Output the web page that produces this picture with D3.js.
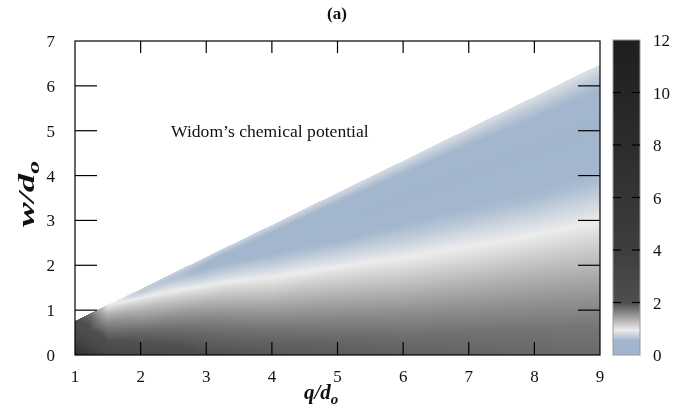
<!DOCTYPE html>
<html>
<head>
<meta charset="utf-8">
<script src="https://cdn.jsdelivr.net/npm/d3@7"></script>
<style>
  html, body { margin: 0; padding: 0; background: #fff; }
  #wrap { position: relative; width: 688px; height: 415px; overflow: hidden; }
  canvas, svg { position: absolute; left: 0; top: 0; }
  text { font-family: "Liberation Serif", "Times New Roman", serif; fill: #111; }
</style>
</head>
<body>
<div id="wrap"></div>
<script>
// ---------------- DATA ----------------
const xTicks = [1, 2, 3, 4, 5, 6, 7, 8, 9];
const yTicks = [0, 1, 2, 3, 4, 5, 6, 7];
const cbTicks = [0, 2, 4, 6, 8, 10, 12];
// q/d_o sample columns
const qNodes = [1, 1.25, 1.5, 2, 3, 4, 5, 6, 7, 8, 9];
// upper edge of the physical region (w/d_o) for each q column
const wEdge = [0.76, 0.94, 1.12, 1.47, 2.19, 2.90, 3.62, 4.33, 5.05, 5.76, 6.48];
// relative height w / wEdge of the sample rows
const tNodes = [0, 0.1, 0.2, 0.3, 0.4, 0.5, 0.6, 0.7, 0.8, 0.9, 0.95, 1];
// chemical potential at (q column, t row)
const muValues = [
  [8.0, 6.5, 5.3, 4.4, 3.7, 3.2, 2.8, 2.5, 2.25, 2.1, 2.05, 2.0],      // q=1
  [4.3, 3.6, 3.0, 2.6, 2.3, 2.1, 1.96, 1.9, 1.86, 1.8, 1.75, 1.7],     // q=1.25
  [3.3, 2.5, 2.1, 1.95, 1.86, 1.76, 1.65, 1.5, 1.35, 1.15, 1.05, 0.97], // q=1.5
  [2.6, 2.1, 1.95, 1.86, 1.75, 1.6, 1.45, 1.3, 1.1, 0.85, 0.7, 0.75],  // q=2
  [1.98, 1.9, 1.83, 1.72, 1.57, 1.4, 1.2, 0.97, 0.7, 0.5, 0.58, 0.78], // q=3
  [1.93, 1.85, 1.73, 1.56, 1.37, 1.16, 0.95, 0.7, 0.5, 0.45, 0.58, 0.8], // q=4
  [1.9, 1.81, 1.66, 1.47, 1.27, 1.05, 0.8, 0.55, 0.42, 0.43, 0.6, 0.82], // q=5
  [1.87, 1.77, 1.6, 1.39, 1.17, 0.95, 0.7, 0.5, 0.4, 0.45, 0.62, 0.84], // q=6
  [1.84, 1.75, 1.57, 1.36, 1.13, 0.9, 0.65, 0.47, 0.4, 0.47, 0.64, 0.85], // q=7
  [1.82, 1.73, 1.55, 1.34, 1.11, 0.86, 0.6, 0.45, 0.4, 0.5, 0.66, 0.86], // q=8
  [1.8, 1.72, 1.53, 1.32, 1.09, 0.85, 0.6, 0.45, 0.4, 0.5, 0.68, 0.87]  // q=9
];
// palette
const paletteStops = [0, 0.55, 0.95, 1.95, 2.0, 4, 8, 12];
const paletteColors = ["#a0b4cc", "#a3b6cd", "#ececec", "#535353", "#4e4e4e", "#3e3e3e", "#2c2c2c", "#1e1e1e"];

// ---------------- LAYOUT ----------------
const W = 688, H = 415;
const plot = { left: 75, right: 600, top: 41, bottom: 355 };
const cb = { left: 613, right: 640, top: 40, bottom: 355 };

const x = d3.scaleLinear().domain([1, 9]).range([plot.left, plot.right]);
const y = d3.scaleLinear().domain([0, 7]).range([plot.bottom, plot.top]);
const color = d3.scaleLinear().domain(paletteStops).range(paletteColors).clamp(true);
const cbScale = d3.scaleLinear().domain([0, 12]).range([cb.bottom, cb.top]);
const edgeScale = d3.scaleLinear().domain(qNodes).range(wEdge);

const wrap = d3.select("#wrap");
const canvas = wrap.append("canvas").attr("width", W).attr("height", H).node();
const ctx = canvas.getContext("2d");
ctx.fillStyle = "#fff";
ctx.fillRect(0, 0, W, H);

// bilinear lookup in the (q, t) sample grid
function findIdx(arr, v) {
  let i = d3.bisectRight(arr, v) - 1;
  i = Math.max(0, Math.min(arr.length - 2, i));
  const f = (v - arr[i]) / (arr[i + 1] - arr[i]);
  return [i, Math.max(0, Math.min(1, f))];
}
function mu(q, t) {
  const [i, fq] = findIdx(qNodes, q);
  const [j, ft] = findIdx(tNodes, t);
  const a = muValues[i][j], b = muValues[i][j + 1];
  const c = muValues[i + 1][j], d = muValues[i + 1][j + 1];
  return (a * (1 - ft) + b * ft) * (1 - fq) + (c * (1 - ft) + d * ft) * fq;
}

// heat map
const img = ctx.getImageData(0, 0, W, H);
for (let py = plot.top; py < plot.bottom; py++) {
  for (let px = plot.left; px < plot.right; px++) {
    const q = x.invert(px + 0.5), w = y.invert(py + 0.5);
    const edge = edgeScale(q);
    if (w > edge) continue;
    const c = d3.rgb(color(mu(q, w / edge)));
    const k = (py * W + px) * 4;
    img.data[k] = c.r; img.data[k + 1] = c.g; img.data[k + 2] = c.b; img.data[k + 3] = 255;
  }
}
// colour box
for (let py = cb.top; py < cb.bottom; py++) {
  const c = d3.rgb(color(cbScale.invert(py + 0.5)));
  for (let px = cb.left; px < cb.right; px++) {
    const k = (py * W + px) * 4;
    img.data[k] = c.r; img.data[k + 1] = c.g; img.data[k + 2] = c.b; img.data[k + 3] = 255;
  }
}
ctx.putImageData(img, 0, 0);

// ---------------- SVG overlay ----------------
const svg = wrap.append("svg").attr("width", W).attr("height", H);

// frame
svg.append("rect")
  .attr("x", plot.left).attr("y", plot.top)
  .attr("width", plot.right - plot.left).attr("height", plot.bottom - plot.top)
  .attr("fill", "none").attr("stroke", "#000").attr("stroke-width", 1.2);

const tickG = svg.append("g").attr("stroke", "#000").attr("stroke-width", 1.2);
xTicks.slice(1, -1).forEach(v => {
  tickG.append("line").attr("x1", x(v)).attr("x2", x(v)).attr("y1", plot.bottom).attr("y2", plot.bottom - 13);
  tickG.append("line").attr("x1", x(v)).attr("x2", x(v)).attr("y1", plot.top).attr("y2", plot.top + 12);
});
yTicks.slice(1, -1).forEach(v => {
  tickG.append("line").attr("x1", plot.left).attr("x2", plot.left + 22).attr("y1", y(v)).attr("y2", y(v));
  tickG.append("line").attr("x1", plot.right).attr("x2", plot.right - 22).attr("y1", y(v)).attr("y2", y(v));
});

// tick labels
svg.append("g").selectAll("text").data(xTicks).join("text")
  .attr("x", d => x(d)).attr("y", 382).attr("text-anchor", "middle")
  .attr("font-size", 17).text(d => d);
svg.append("g").selectAll("text").data(yTicks).join("text")
  .attr("x", 55).attr("y", d => y(d) + 6).attr("text-anchor", "end")
  .attr("font-size", 17).text(d => d);

// colour box frame + ticks + labels
svg.append("rect")
  .attr("x", cb.left).attr("y", cb.top)
  .attr("width", cb.right - cb.left).attr("height", cb.bottom - cb.top)
  .attr("fill", "none").attr("stroke", "#999").attr("stroke-width", 1);
const cbG = svg.append("g").attr("stroke", "#000").attr("stroke-width", 1.2);
cbTicks.slice(1, -1).forEach(v => {
  cbG.append("line").attr("x1", cb.left).attr("x2", cb.left + 8).attr("y1", cbScale(v)).attr("y2", cbScale(v));
  cbG.append("line").attr("x1", cb.right).attr("x2", cb.right - 8).attr("y1", cbScale(v)).attr("y2", cbScale(v));
});
svg.append("g").selectAll("text").data(cbTicks).join("text")
  .attr("x", 653).attr("y", d => cbScale(d) + 6).attr("text-anchor", "start")
  .attr("font-size", 17).text(d => d);

// title
svg.append("text").attr("x", 337).attr("y", 19).attr("text-anchor", "middle")
  .attr("font-size", 17).attr("font-weight", "bold").text("(a)");

// in-plot label
svg.append("text").attr("x", 171).attr("y", 137)
  .attr("font-size", 17.6).text("Widom’s chemical potential");

// axis labels
const xl = svg.append("text").attr("x", 304).attr("y", 399)
  .attr("font-size", 21).attr("font-weight", "bold").attr("font-style", "italic");
xl.append("tspan").text("q/d");
xl.append("tspan").attr("font-size", 15).attr("dy", 5).text("o");

const yl = svg.append("text").attr("transform", "translate(34,227) rotate(-90)")
  .attr("font-size", 23).attr("font-weight", "bold").attr("font-style", "italic")
  .attr("textLength", 66).attr("lengthAdjust", "spacingAndGlyphs");
yl.append("tspan").text("w/d");
yl.append("tspan").attr("font-size", 16).attr("dy", 5).text("o");
</script>
</body>
</html>
